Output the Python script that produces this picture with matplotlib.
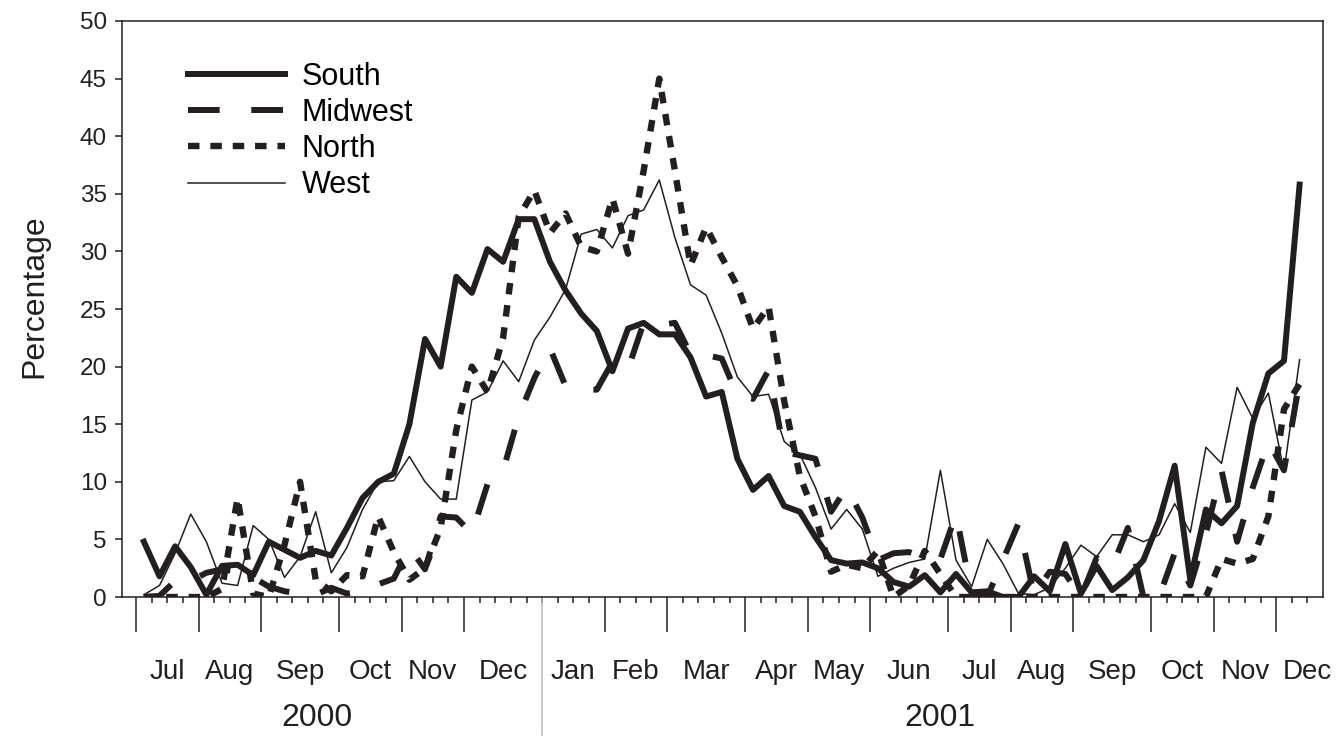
import numpy as np
import matplotlib
matplotlib.use("Agg")
import matplotlib.pyplot as plt
import matplotlib.transforms as mtransforms

plt.rcParams['font.family'] = ['Liberation Sans', 'DejaVu Sans']

# weekly percentages, Jul 2000 - Dec 2001
south = [4.8, 1.8, 4.4, 2.6, 0.2, 2.7, 2.8, 1.9, 4.8, 4.1, 3.4, 4.0, 3.6,
         6.0, 8.6, 10.0, 10.7, 15.0, 22.4, 20.0, 27.8, 26.4, 30.2, 29.1, 32.8, 32.8,
         29.1, 26.6, 24.6, 23.1, 19.6, 23.3, 23.8, 22.8, 22.8, 20.8, 17.4, 17.8, 12.0,
         9.3, 10.5, 7.9, 7.4, 5.2, 3.2, 2.9, 3.0, 2.5, 1.3, 0.9, 1.9, 0.4,
         2.0, 0.4, 0.5, 0.0, 0.0, 1.8, 0.5, 4.6, 0.3, 2.7, 0.6, 1.7, 3.2,
         6.6, 11.4, 1.5, 7.6, 6.4, 7.9, 15.1, 19.4, 20.5, 35.8]
midwest = [0.0, 0.1, 1.4, 1.4, 2.1, 2.4, 2.2, 1.7, 0.9, 0.5, 0.3, 0.2, 0.8,
           0.3, 0.5, 1.1, 1.6, 4.3, 2.4, 7.0, 6.9, 5.5, 9.8, 11.0, 15.7, 19.0,
           21.6, 18.3, 18.0, 18.0, 20.4, 19.8, 23.8, 23.6, 23.8, 21.1, 21.0, 20.7, 17.5,
           17.2, 19.7, 12.6, 12.3, 12.0, 7.4, 9.5, 6.9, 3.2, 3.8, 3.9, 3.4, 3.3,
           7.2, 0.3, 0.0, 3.2, 6.4, 0.2, 2.2, 2.0, 0.0, 3.4, 2.6, 6.0, 0.0,
           0.0, 3.8, 1.0, 5.5, 11.0, 4.8, 9.5, 13.5, 11.0, 18.7]
north = [0.0, 0.0, 0.0, 0.0, 0.0, 0.7, 8.6, 0.3, 0.0, 4.5, 10.0, 1.5, 0.5,
         1.9, 1.8, 7.0, 3.9, 1.5, 2.5, 6.0, 14.5, 20.0, 17.8, 22.5, 33.0, 35.3,
         31.6, 33.3, 30.4, 30.0, 34.6, 29.8, 37.0, 45.0, 37.0, 28.8, 32.1, 29.5, 27.0,
         23.3, 25.2, 17.0, 10.5, 7.0, 2.2, 2.8, 2.5, 4.0, 0.0, 1.0, 4.0, 2.0,
         0.0, 0.0, 0.0, 0.0, 0.0, 0.0, 0.0, 0.0, 0.0, 0.0, 0.0, 0.0, 0.0,
         0.0, 0.0, 0.0, 0.0, 3.3, 2.9, 3.3, 7.0, 16.3, 18.5]
west = [0.2, 1.0, 3.8, 7.2, 4.8, 1.2, 1.0, 6.2, 5.0, 1.7, 3.5, 7.4, 2.1,
        4.3, 7.6, 10.0, 10.1, 12.2, 10.0, 8.5, 8.5, 17.1, 17.8, 20.5, 18.7, 22.3,
        24.3, 26.7, 31.5, 31.9, 30.3, 33.1, 33.6, 36.2, 31.2, 27.1, 26.2, 22.9, 19.1,
        17.4, 17.6, 13.5, 12.4, 9.5, 5.9, 7.6, 5.9, 1.8, 2.5, 3.0, 3.3, 11.0,
        3.2, 0.9, 5.0, 2.9, 0.3, 0.2, 0.8, 2.5, 4.5, 3.5, 5.4, 5.4, 4.8,
        5.4, 8.1, 5.6, 13.0, 11.6, 18.2, 15.5, 17.7, 10.9, 20.6]

months = ["Jul", "Aug", "Sep", "Oct", "Nov", "Dec", "Jan", "Feb", "Mar",
          "Apr", "May", "Jun", "Jul", "Aug", "Sep", "Oct", "Nov", "Dec"]
weeks_in_month = [4, 4, 5, 4, 4, 5, 4, 4, 5, 4, 4, 5, 4, 4, 5, 4, 4, 4]
years = ["2000", "2001"]

ink = "#231f20"

fig = plt.figure(figsize=(13.41, 7.42), dpi=100)
ax = fig.add_axes([0.091, 0.1954, 0.8956, 0.7763])

x = np.arange(len(south)) + 0.5
ax.plot(x, south, color=ink, lw=4.3, label="South")
ax.plot(x, midwest, color=ink, lw=4.3, linestyle=(0, (5.3, 5.3)),
        dash_capstyle='butt', label="Midwest")
ax.plot(x, north, color=ink, lw=4.6, linestyle=(0, (1.8, 1.7)),
        dash_capstyle='butt', label="North")
ax.plot(x, west, color=ink, lw=1.1, label="West")

ax.set_xlim(-0.9, 76.0)
ax.set_ylim(0, 50)

for side in ["left", "right", "top", "bottom"]:
    ax.spines[side].set_color(ink)
    ax.spines[side].set_linewidth(1.1)

ax.set_yticks(range(0, 51, 5))
ax.tick_params(axis='y', direction='out', length=5, width=1.1,
               labelsize=17.5, pad=6, colors=ink)

# month boundaries: long ticks, weeks: short ticks
bounds = np.cumsum([0] + weeks_in_month)
year_split = bounds[6]
major = [b for b in bounds if b != year_split and b < 76]
ax.set_xticks(major)
ax.set_xticks(np.arange(0, 76), minor=True)
ax.tick_params(axis='x', which='major', direction='out', length=25,
               width=1.1, labelbottom=False, colors=ink)
ax.tick_params(axis='x', which='minor', direction='out', length=4.3,
               width=1.1, colors=ink)

trans = mtransforms.blended_transform_factory(ax.transData, ax.transAxes)
ax.plot([year_split, year_split], [0, -0.24], transform=trans,
        color="#b8b8b8", lw=1.1, clip_on=False)

centers = (bounds[:-1] + bounds[1:]) / 2.0
for c, m in zip(centers, months):
    ax.text(c, -0.13, m, transform=trans, ha='center', va='center',
            fontsize=20, color=ink)

year_pos = [11.6, 51.5]
for p, yname in zip(year_pos, years):
    ax.text(p, -0.21, yname, transform=trans, ha='center', va='center',
            fontsize=23, color=ink)

fig.text(0.026, 1 - 296 / 742.0, "Percentage", rotation=90, ha='center',
         va='center', fontsize=23, color=ink)

ax.legend(loc='upper left', bbox_to_anchor=(0.055, 0.929), frameon=False,
          fontsize=22, handlelength=3.17, handletextpad=0.55,
          labelspacing=0.2, borderpad=0, borderaxespad=0)

fig.savefig("out.png", dpi=100)
